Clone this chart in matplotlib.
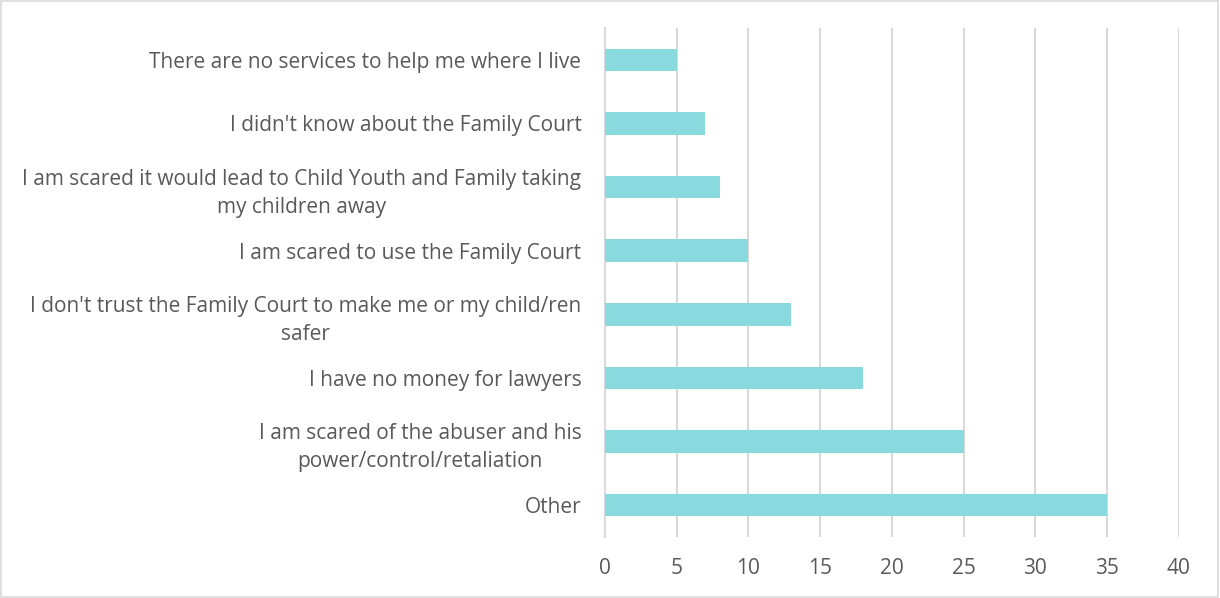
import matplotlib
matplotlib.use("Agg")
import matplotlib.pyplot as plt
from matplotlib.patches import Rectangle

categories = [
    "There are no services to help me where I live",
    "I didn't know about the Family Court",
    "I am scared it would lead to Child Youth and Family taking\nmy children away",
    "I am scared to use the Family Court",
    "I don't trust the Family Court to make me or my child/ren\nsafer",
    "I have no money for lawyers",
    "I am scared of the abuser and his\npower/control/retaliation",
    "Other",
]
values = [5, 7, 8, 10, 13, 18, 25, 35]
xticks = [0, 5, 10, 15, 20, 25, 30, 35, 40]

plt.rcParams['font.family'] = ['Open Sans', 'DejaVu Sans']
text_color = "#595959"
grid_color = "#D9D9D9"
bar_color = "#88DADF"

fig = plt.figure(figsize=(12.2, 5.98), dpi=100)
ax = fig.add_axes([605/1220, 1 - 537/598, (1178.7 - 605)/1220, (537 - 28)/598])

ypos = list(range(len(categories)))
ax.barh(ypos, values, height=0.355, color=bar_color, zorder=3)
ax.set_ylim(len(categories) - 0.5, -0.5)
ax.set_xlim(0, 40)
ax.set_xticks(xticks)
ax.set_xticklabels([str(t) for t in xticks])
ax.set_yticks(ypos)
ax.set_yticklabels(categories, linespacing=1.45)
for lbl in ax.get_yticklabels():
    lbl.set_horizontalalignment('right')
    lbl.set_multialignment('center')

ax.xaxis.grid(True, color=grid_color, linewidth=1.5, zorder=0)
ax.tick_params(axis='both', length=0, colors=text_color, labelsize=15)
ax.tick_params(axis='x', pad=15)
ax.tick_params(axis='y', pad=17)
for s in ['top', 'right', 'bottom']:
    ax.spines[s].set_visible(False)
ax.spines['left'].set_color(grid_color)
ax.spines['left'].set_linewidth(1.5)

fig.patches.append(Rectangle((0.001, 0.002), 0.997, 0.996, transform=fig.transFigure,
                             fill=False, edgecolor=grid_color, linewidth=1.2))

fig.savefig("out.png", dpi=100)
